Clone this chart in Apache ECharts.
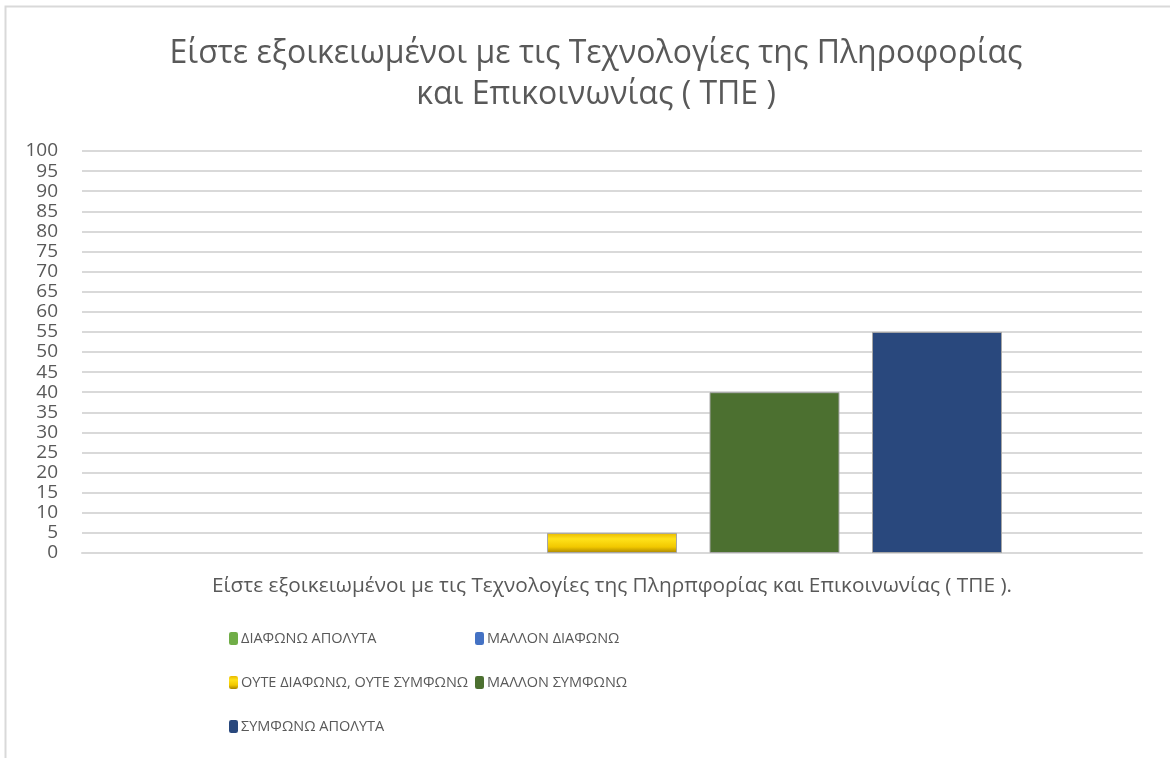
<!DOCTYPE html>
<html>
<head>
    <meta charset="UTF-8">
    <script src="https://cdn.jsdelivr.net/npm/echarts@6/dist/echarts.min.js"></script>
    <style>
        html, body { margin: 0; padding: 0; background: #fff; }
        #main { width: 1170px; height: 758px; }
    </style>
</head>
<body>
<div id="main"></div>
<script type="text/javascript">
    var titleText = 'Είστε εξοικειωμένοι με τις Τεχνολογίες της Πληροφορίας\nκαι Επικοινωνίας ( ΤΠΕ )';
    var categories = ['Είστε εξοικειωμένοι με τις Τεχνολογίες της Πληρπφορίας και Επικοινωνίας ( ΤΠΕ ).'];
    var seriesNames = ['ΔΙΑΦΩΝΩ ΑΠΟΛΥΤΑ', 'ΜΑΛΛΟΝ ΔΙΑΦΩΝΩ', 'ΟΥΤΕ ΔΙΑΦΩΝΩ, ΟΥΤΕ ΣΥΜΦΩΝΩ', 'ΜΑΛΛΟΝ ΣΥΜΦΩΝΩ', 'ΣΥΜΦΩΝΩ ΑΠΟΛΥΤΑ'];
    var seriesValues = [[0], [0], [5], [40], [55]];
    var yMin = 0, yMax = 100, yStep = 5;

    var font = '"Open Sans"';
    var textGrey = '#595959';

    var yellowFill = new echarts.graphic.LinearGradient(0, 0, 0, 1, [
        {offset: 0, color: '#e8b800'},
        {offset: 0.3, color: '#ffe21a'},
        {offset: 0.7, color: '#f2c800'},
        {offset: 1, color: '#a88400'}
    ]);
    var colors = ['#70ad47', '#4472c4', yellowFill, '#4c7030', '#29487d'];
    var legendColors = ['#70ad47', '#4472c4', '#e6b800', '#3e5c28', '#1f3864'];

    var series = [];
    for (var i = 0; i < seriesNames.length; i++) {
        series.push({
            name: seriesNames[i],
            type: 'bar',
            data: seriesValues[i],
            barWidth: 130,
            barGap: '25%',
            itemStyle: {
                color: colors[i],
                borderColor: '#a6a6a6',
                borderWidth: seriesValues[i][0] > 0 ? 1 : 0
            }
        });
    }

    var legendBase = {
        orient: 'vertical',
        top: 626,
        itemWidth: 9,
        itemHeight: 13,
        itemGap: 29,
        itemStyle: {borderWidth: 0},
        textStyle: {fontFamily: font, fontSize: 14.5, color: textGrey, padding: [0, 0, 0, -2]}
    };

    var myChart = echarts.init(document.getElementById('main'));
    var option = {
        animation: false,
        color: legendColors,
        title: {
            text: titleText,
            left: 591,
            top: 28,
            textAlign: 'center',
            textStyle: {
                fontFamily: font,
                fontSize: 32,
                fontWeight: 'normal',
                color: textGrey,
                lineHeight: 41
            }
        },
        graphic: [{
            type: 'rect',
            shape: {x: 5.5, y: 6.5, width: 1300, height: 900},
            style: {fill: 'none', stroke: '#d9d9d9', lineWidth: 2},
            silent: true
        }],
        legend: [
            Object.assign({}, legendBase, {left: 224, data: [seriesNames[0], seriesNames[2], seriesNames[4]]}),
            Object.assign({}, legendBase, {left: 470, data: [seriesNames[1], seriesNames[3]]})
        ],
        grid: {
            left: 82,
            right: 28,
            top: 151,
            bottom: 205,
            containLabel: false
        },
        xAxis: {
            type: 'category',
            data: categories,
            axisLine: {show: true, lineStyle: {color: '#d9d9d9', width: 2}},
            axisTick: {show: false},
            axisLabel: {
                margin: 23,
                fontFamily: font,
                fontSize: 20.8,
                color: textGrey
            }
        },
        yAxis: {
            type: 'value',
            min: yMin,
            max: yMax,
            interval: yStep,
            axisLine: {show: false},
            axisTick: {show: false},
            axisLabel: {
                margin: 24,
                fontFamily: font,
                fontSize: 19,
                color: textGrey
            },
            splitLine: {lineStyle: {color: '#d9d9d9', width: 2}}
        },
        series: series
    };
    myChart.setOption(option);
</script>
</body>
</html>
